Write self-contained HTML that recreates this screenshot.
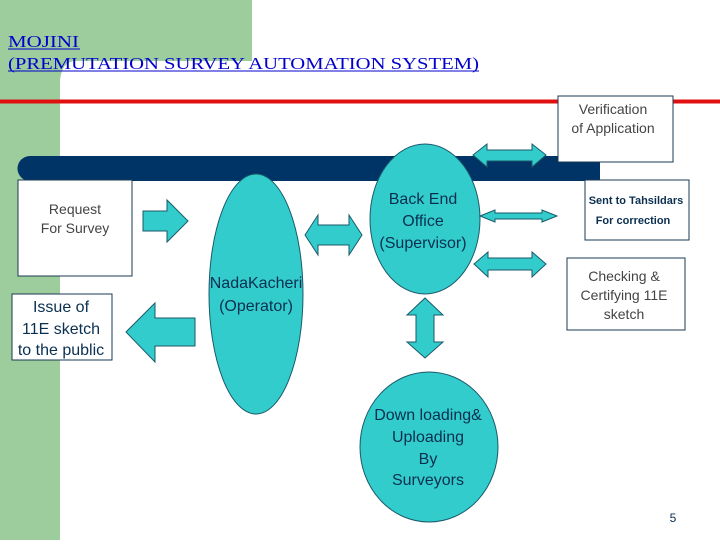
<!DOCTYPE html>
<html><head><meta charset="utf-8"><style>
body{margin:0;width:720px;height:540px;overflow:hidden;background:#fff}
svg text{font-family:"Liberation Sans",Arial,sans-serif}
svg text.serif{font-family:"Liberation Serif","Times New Roman",serif}
</style></head><body>
<svg width="720" height="540" viewBox="0 0 720 540" xmlns="http://www.w3.org/2000/svg">
<path d="M0 0H252V61H76Q62 61 60 80V540H0Z" fill="#9dcc9d"/>
<rect x="0" y="99.5" width="720" height="4" fill="#e01010"/>
<text class="serif" x="8" y="47" font-size="17" fill="#0000cc" textLength="71" lengthAdjust="spacingAndGlyphs">MOJINI</text>
<line x1="8" y1="49" x2="80" y2="49" stroke="#0000cc" stroke-width="1"/>
<text class="serif" x="8" y="69" font-size="17" fill="#0000cc" textLength="471" lengthAdjust="spacingAndGlyphs">(PREMUTATION SURVEY  AUTOMATION SYSTEM)</text>
<line x1="8" y1="71" x2="479" y2="71" stroke="#0000cc" stroke-width="1"/>
<path d="M30 156H600V181H30A12.5 12.5 0 0 1 30 156Z" fill="#003366"/>
<g fill="#fff" stroke="#1a3a50" stroke-width="1">
<rect x="558" y="96" width="115" height="66"/>
<rect x="585" y="180" width="104" height="60"/>
<rect x="567" y="258" width="118" height="72"/>
<rect x="18" y="180" width="114" height="96"/>
<rect x="12" y="294" width="100" height="66"/>
</g>
<g fill="#33cccc" stroke="#1a5a6a" stroke-width="1">
<ellipse cx="256" cy="294" rx="47" ry="120"/>
<ellipse cx="425" cy="219" rx="55" ry="75"/>
<ellipse cx="429" cy="447" rx="69" ry="75"/>
<polygon points="143,211 167,211 167,200 188,221 167,242 167,231 143,231"/>
<polygon points="305,235 318,215 318,225 349,225 349,215 362,235 349,255 349,245 318,245 318,255"/>
<polygon points="126,332 155,303 155,318 195,318 195,346 155,346 155,362"/>
<polygon points="473,155 487,144 487,150 532,150 532,144 546,155 532,167 532,161 487,161 487,167"/>
<polygon points="480,216 495,210 495,213 542,213 542,210 557,216 542,222 542,219 495,219 495,222"/>
<polygon points="474,264 488,252 488,258 532,258 532,252 546,264 532,277 532,270 488,270 488,277"/>
<polygon points="425,298 443,315 434,315 434,342 443,342 425,358 407,342 416,342 416,315 407,315"/>
</g>
<g fill="#444" font-size="14" text-anchor="middle">
<text x="613" y="114">Verification</text>
<text x="613" y="133">of Application</text>
<text x="75" y="214">Request</text>
<text x="75" y="233">For Survey</text>
<text x="624" y="281">Checking &amp;</text>
<text x="624" y="300">Certifying 11E</text>
<text x="624" y="319">sketch</text>
</g>
<g fill="#0a2f50" text-anchor="middle">
<text x="636" y="204" font-size="11" font-weight="bold">Sent to Tahsildars</text>
<text x="633" y="224" font-size="11" font-weight="bold">For correction</text>
<text x="61" y="312" font-size="16">Issue of</text>
<text x="61" y="334" font-size="16">11E sketch</text>
<text x="61" y="355" font-size="16">to the public</text>
<text x="256" y="288" font-size="16">NadaKacheri</text>
<text x="256" y="311" font-size="16">(Operator)</text>
<text x="423" y="204" font-size="16">Back End</text>
<text x="423" y="226" font-size="16">Office</text>
<text x="423" y="248" font-size="16">(Supervisor)</text>
<text x="428" y="420" font-size="16">Down loading&amp;</text>
<text x="428" y="442" font-size="16">Uploading</text>
<text x="428" y="464" font-size="16">By</text>
<text x="428" y="485" font-size="16">Surveyors</text>
<text x="673" y="522" font-size="12">5</text>
</g>
</svg>
</body></html>
